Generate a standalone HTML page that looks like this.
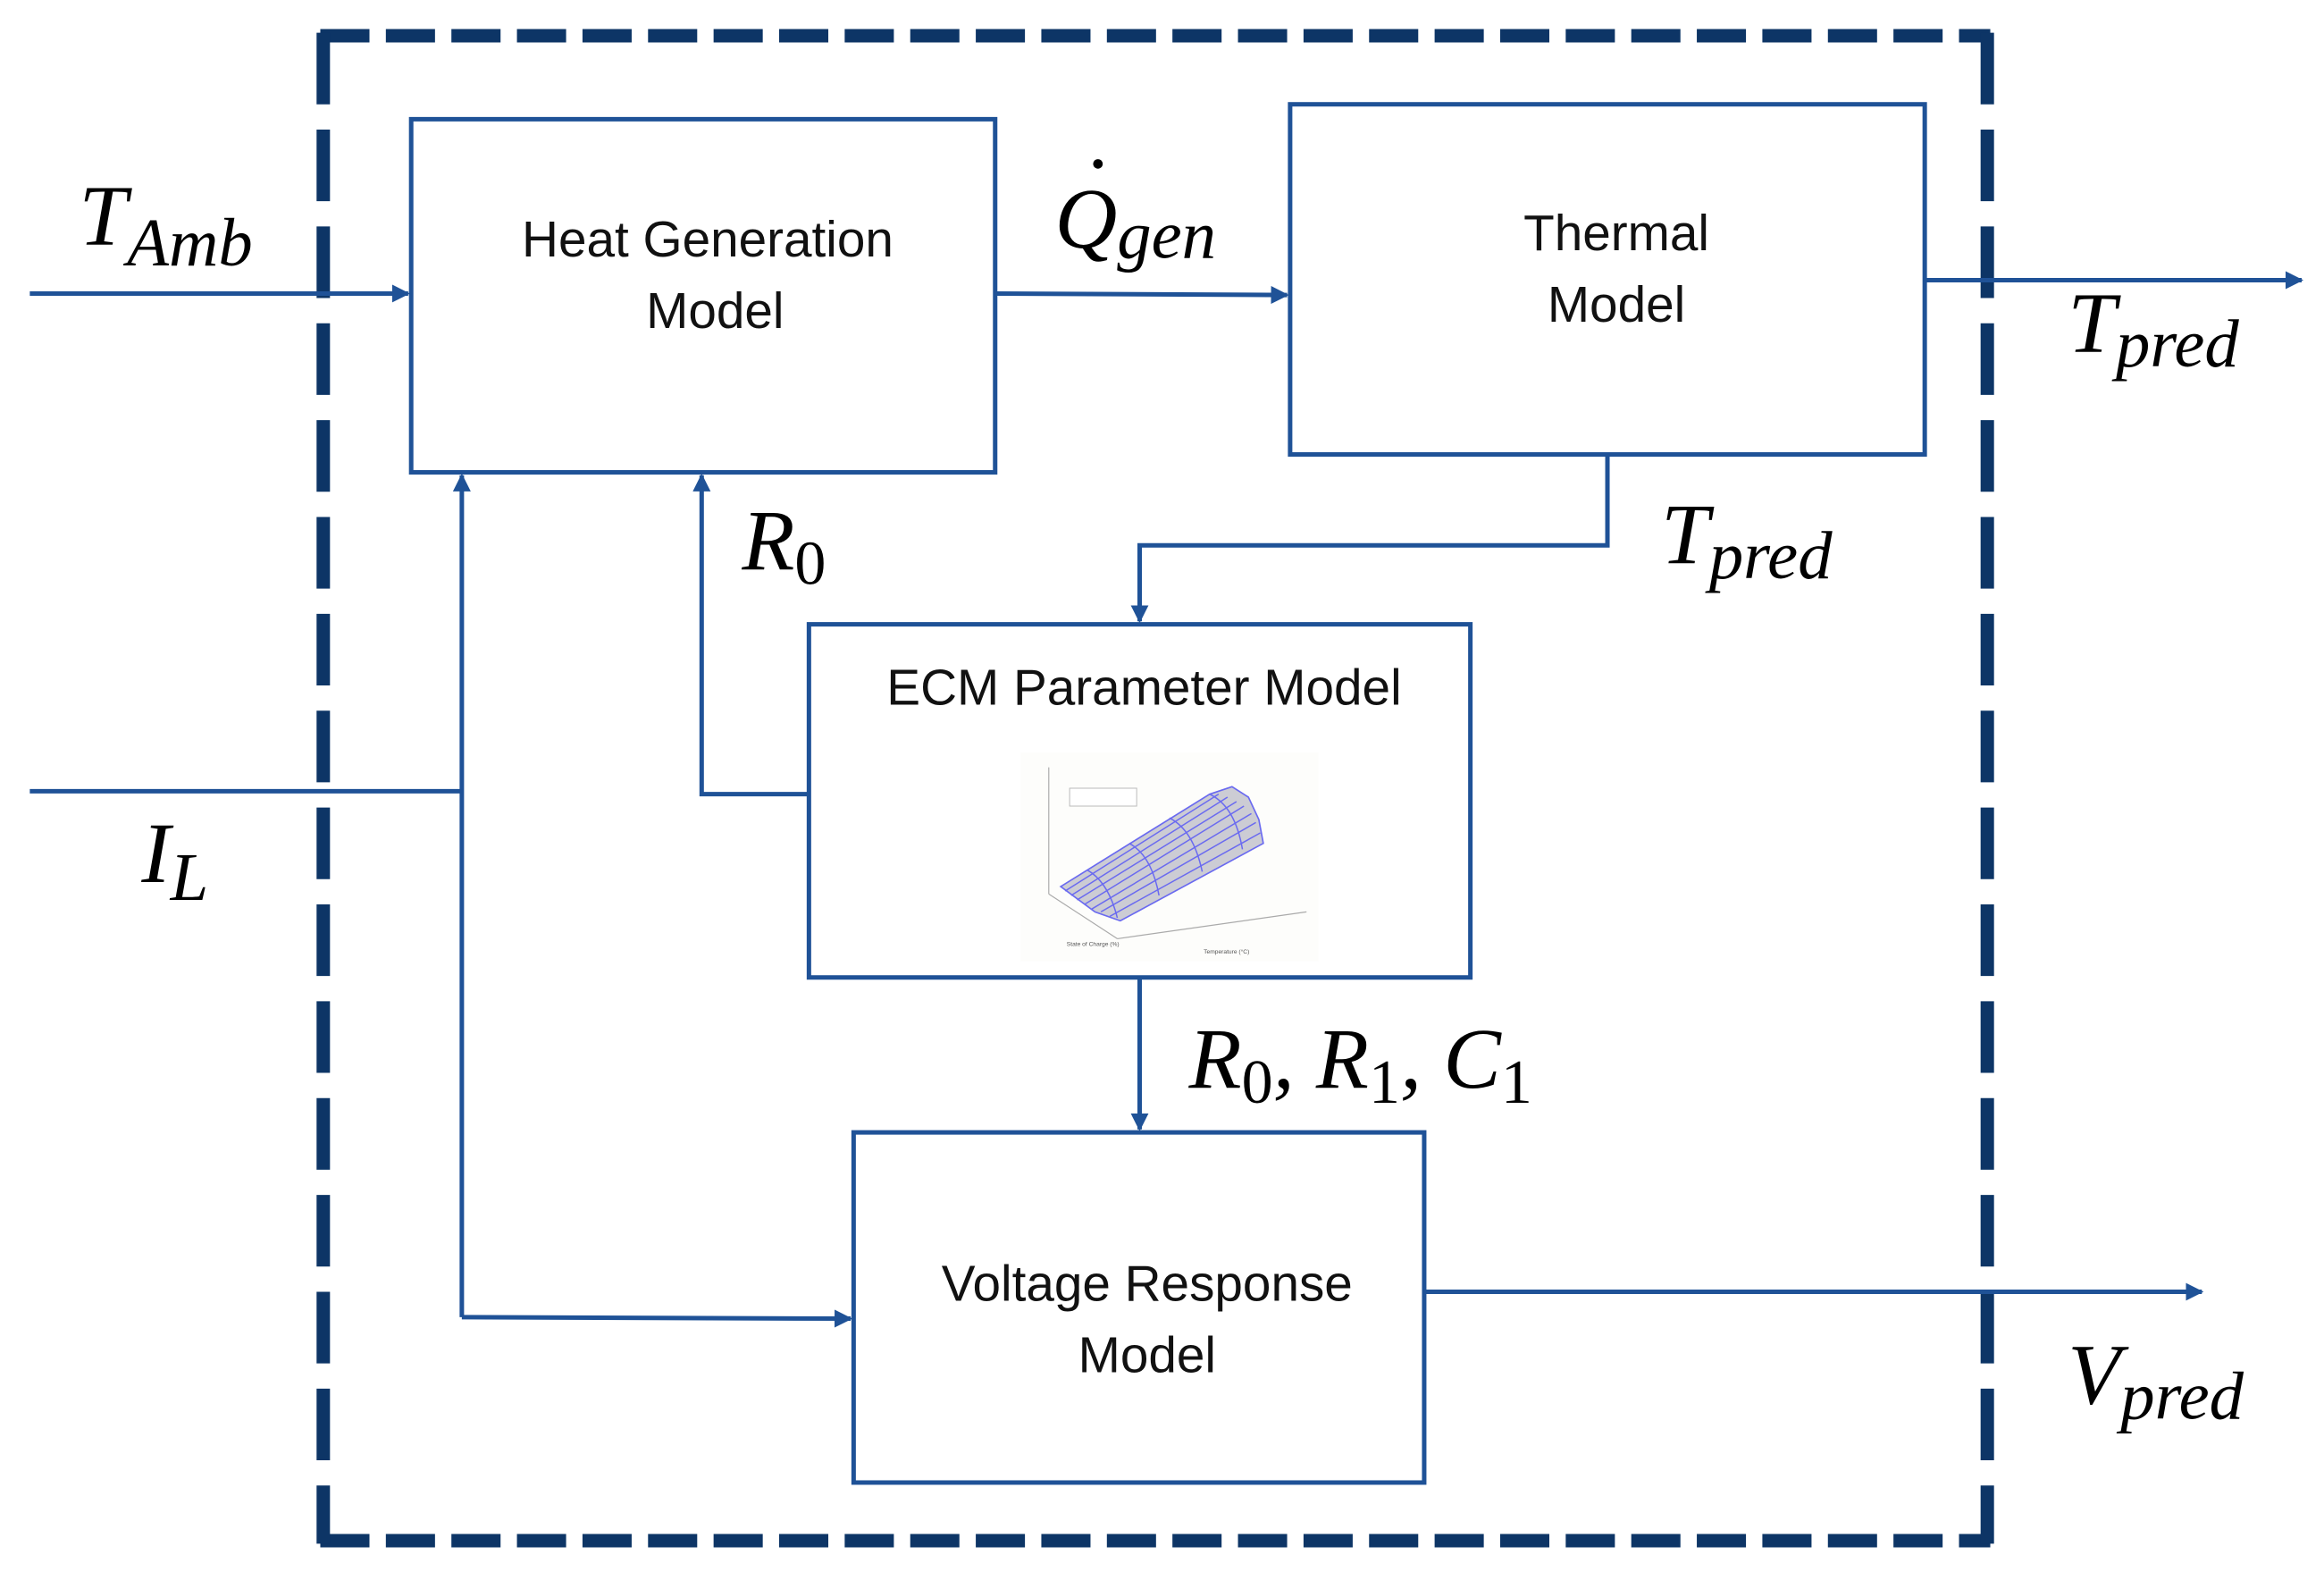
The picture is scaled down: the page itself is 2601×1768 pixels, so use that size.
<!DOCTYPE html>
<html><head><meta charset="utf-8"><style>
html,body{margin:0;padding:0;background:#fff;}
svg{display:block;}
.box{fill:#fff;stroke:#1f5297;stroke-width:3;}
.ln{fill:none;stroke:#1f5297;stroke-width:3;}
.t{font-family:"Liberation Sans",sans-serif;font-size:34px;fill:#111;text-anchor:middle;}
.m{font-family:"Liberation Serif",serif;font-style:italic;fill:#000;}
.dh{stroke:#0d3566;stroke-width:9;stroke-dasharray:33 11;fill:none;}
.dv{stroke:#0d3566;stroke-width:9;stroke-dasharray:48 17;fill:none;}
</style></head><body>
<svg width="2601" height="1768" viewBox="0 0 1560 1060.4" xmlns="http://www.w3.org/2000/svg">
<defs><marker id="a" viewBox="0 0 10 10" refX="9" refY="5" markerWidth="4" markerHeight="4" orient="auto"><path d="M0,0 L10,5 L0,10 z" fill="#1f5297"/></marker></defs>
<line class="dh" x1="215" y1="24" x2="1336" y2="24"/>
<line class="dh" x1="215" y1="1034" x2="1336" y2="1034"/>
<line class="dv" x1="217" y1="22" x2="217" y2="1036"/>
<line class="dv" x1="1334" y1="22" x2="1334" y2="1036"/>

<line class="ln" x1="20" y1="197" x2="274" y2="197" marker-end="url(#a)"/>
<line class="ln" x1="668" y1="197" x2="864" y2="198" marker-end="url(#a)"/>
<line class="ln" x1="1292" y1="188" x2="1545" y2="188" marker-end="url(#a)"/>
<polyline class="ln" points="1079,305 1079,366 765,366 765,417" marker-end="url(#a)"/>
<polyline class="ln" points="548,533 471,533 471,319" marker-end="url(#a)"/>
<line class="ln" x1="20" y1="531" x2="310" y2="531"/>
<line class="ln" x1="310" y1="884" x2="310" y2="319" marker-end="url(#a)"/>
<line class="ln" x1="310" y1="884" x2="571" y2="885" marker-end="url(#a)"/>
<line class="ln" x1="765" y1="656" x2="765" y2="758" marker-end="url(#a)"/>
<line class="ln" x1="956" y1="867" x2="1478" y2="867" marker-end="url(#a)"/>

<rect class="box" x="276" y="80" width="392" height="237"/>
<text class="t" x="475" y="172">Heat Generation</text>
<text class="t" x="480" y="220">Model</text>
<rect class="box" x="866" y="70" width="426" height="235"/>
<text class="t" x="1085" y="168">Thermal</text>
<text class="t" x="1085" y="216">Model</text>
<rect class="box" x="543" y="419" width="444" height="237"/>
<text class="t" x="768" y="473">ECM Parameter Model</text>
<rect class="box" x="573" y="760" width="383" height="235"/>
<text class="t" x="770" y="873">Voltage Response</text>
<text class="t" x="770" y="921">Model</text>

<g>
<rect x="685" y="505" width="200" height="140" fill="#fdfdfb"/>
<line x1="704" y1="515" x2="704" y2="600" stroke="#aaa" stroke-width="0.7"/>
<line x1="704" y1="600" x2="750" y2="630" stroke="#aaa" stroke-width="0.7"/>
<line x1="750" y1="630" x2="877" y2="612" stroke="#aaa" stroke-width="0.7"/>
<polygon points="712,595 812,533 827,528 838,535 845,550 848,566 752,618 735,612" fill="#ccccd4" stroke="#6a6af0" stroke-width="1"/>
<g stroke="#6a6af0" stroke-width="0.9" fill="none">
<line x1="715" y1="598" x2="818" y2="533"/><line x1="719" y1="601" x2="824" y2="535"/>
<line x1="723" y1="604" x2="830" y2="538"/><line x1="728" y1="607" x2="835" y2="541"/>
<line x1="733" y1="610" x2="840" y2="546"/><line x1="739" y1="612" x2="843" y2="552"/>
<line x1="745" y1="615" x2="846" y2="559"/>
<path d="M730,584 Q744,592 750,616"/><path d="M758,566 Q773,574 778,601"/><path d="M785,549 Q801,557 807,585"/><path d="M812,533 Q829,541 834,570"/>
</g>
<rect x="718" y="529" width="45" height="12" fill="#fff" stroke="#bbb" stroke-width="0.6"/>
<text x="716" y="635" font-family="Liberation Sans" font-size="4" fill="#555">State of Charge (%)</text>
<text x="808" y="640" font-family="Liberation Sans" font-size="4" fill="#555">Temperature (°C)</text>
</g>

<text class="m" x="53" y="164" font-size="58">T<tspan font-size="46" dy="14">Amb</tspan></text>
<text class="m" x="708" y="166" font-size="58">Q<tspan font-size="46" dy="7">gen</tspan></text>
<circle cx="737" cy="110" r="3.2" fill="#000"/>
<text class="m" x="1388" y="236" font-size="58">T<tspan font-size="46" dy="10">pred</tspan></text>
<text class="m" x="1115" y="378" font-size="58">T<tspan font-size="46" dy="10">pred</tspan></text>
<text class="m" x="498" y="382" font-size="58">R<tspan font-size="42" dy="10" font-style="normal">0</tspan></text>
<text class="m" x="95" y="592" font-size="58">I<tspan font-size="46" dy="12">L</tspan></text>
<text class="m" x="798" y="730" font-size="58">R<tspan font-size="42" dy="10" font-style="normal">0</tspan><tspan dy="-10">, R</tspan><tspan font-size="42" dy="10" font-style="normal">1</tspan><tspan dy="-10">, C</tspan><tspan font-size="42" dy="10" font-style="normal">1</tspan></text>
<text class="m" x="1388" y="942" font-size="58">V<tspan font-size="46" dy="10">pred</tspan></text>
</svg>
</body></html>
